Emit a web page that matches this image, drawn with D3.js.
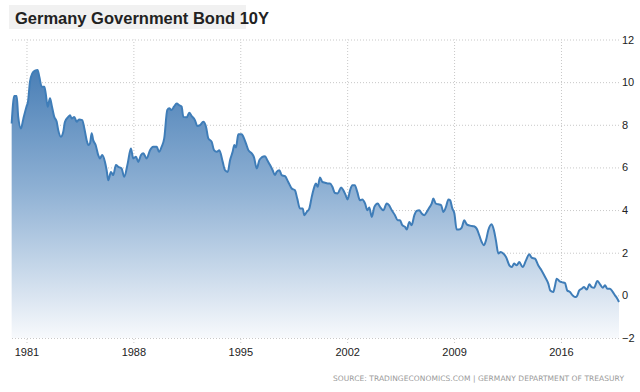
<!DOCTYPE html>
<html>
<head>
<meta charset="utf-8">
<script src="https://cdn.jsdelivr.net/npm/d3@7"></script>
<style>
  body { margin: 0; background: #fff; }
  svg { display: block; }
</style>
</head>
<body>
<script>

// data (decimal year, yield %)

const years = [1980.03, 1980.2, 1980.36, 1980.46, 1980.64, 1980.8, 1981.0, 1981.1, 1981.23, 1981.38,
  1981.56, 1981.73, 1981.84, 1982.0, 1982.17, 1982.26, 1982.39, 1982.54, 1982.65, 1982.82,
  1982.98, 1983.08, 1983.26, 1983.41, 1983.52, 1983.74, 1983.85, 1983.96, 1984.13, 1984.29,
  1984.44, 1984.65, 1984.79, 1984.94, 1985.05, 1985.16, 1985.27, 1985.37, 1985.53, 1985.7,
  1985.81, 1985.96, 1986.14, 1986.25, 1986.36, 1986.53, 1986.68, 1986.86, 1987.01, 1987.23,
  1987.4, 1987.63, 1987.84, 1987.99, 1988.17, 1988.32, 1988.5, 1988.65, 1988.87, 1989.09,
  1989.3, 1989.53, 1989.68, 1989.85, 1990.02, 1990.22, 1990.35, 1990.5, 1990.66, 1990.84,
  1991.0, 1991.16, 1991.27, 1991.49, 1991.66, 1991.82, 1992.03, 1992.19, 1992.36, 1992.58,
  1992.76, 1992.91, 1993.13, 1993.28, 1993.46, 1993.63, 1993.85, 1994.0, 1994.18, 1994.33,
  1994.5, 1994.61, 1994.72, 1994.87, 1995.09, 1995.2, 1995.37, 1995.53, 1995.75, 1995.9,
  1996.08, 1996.25, 1996.4, 1996.62, 1996.77, 1996.95, 1997.12, 1997.27, 1997.38, 1997.56,
  1997.71, 1997.93, 1998.14, 1998.37, 1998.58, 1998.73, 1998.91, 1999.09, 1999.19, 1999.35,
  1999.52, 1999.68, 1999.85, 1999.95, 2000.07, 2000.22, 2000.37, 2000.55, 2000.72, 2000.88,
  2001.03, 2001.2, 2001.38, 2001.6, 2001.75, 2001.9, 2002.03, 2002.19, 2002.34, 2002.5,
  2002.66, 2002.84, 2002.99, 2003.17, 2003.32, 2003.45, 2003.61, 2003.78, 2004.0, 2004.15,
  2004.37, 2004.59, 2004.74, 2004.92, 2005.13, 2005.31, 2005.46, 2005.61, 2005.79, 2005.9,
  2006.07, 2006.22, 2006.4, 2006.55, 2006.72, 2006.88, 2007.05, 2007.21, 2007.38, 2007.54,
  2007.64, 2007.8, 2007.97, 2008.15, 2008.3, 2008.47, 2008.63, 2008.74, 2008.89, 2009.02,
  2009.17, 2009.32, 2009.5, 2009.67, 2009.83, 2010.05, 2010.3, 2010.48, 2010.65, 2010.81,
  2010.96, 2011.09, 2011.24, 2011.46, 2011.61, 2011.74, 2011.9, 2012.05, 2012.22, 2012.4,
  2012.62, 2012.78, 2012.93, 2013.1, 2013.27, 2013.49, 2013.71, 2013.92, 2014.08, 2014.3,
  2014.51, 2014.73, 2014.96, 2015.17, 2015.3, 2015.5, 2015.6, 2015.72, 2015.89, 2016.05,
  2016.26, 2016.41, 2016.59, 2016.76, 2016.92, 2017.03, 2017.2, 2017.36, 2017.51, 2017.69,
  2017.86, 2018.01, 2018.17, 2018.38, 2018.56, 2018.74, 2018.88, 2019.04, 2019.21, 2019.39,
  2019.54, 2019.69, 2019.8];

const yields = [8.06, 9.35, 9.35, 8.37, 7.83, 8.3, 8.85, 9.08, 10.02, 10.41,
  10.54, 10.57, 10.25, 9.78, 9.78, 9.47, 8.85, 9.24, 8.92, 8.37,
  8.14, 7.75, 7.44, 7.67, 8.14, 8.37, 8.45, 8.3, 8.37, 8.14,
  8.25, 8.22, 7.83, 7.28, 7.05, 7.13, 7.6, 7.28, 7.05, 6.58,
  6.42, 6.58, 6.26, 5.87, 5.4, 5.79, 5.64, 6.11, 6.03, 5.95,
  5.56, 6.19, 6.89, 6.42, 6.5, 6.26, 6.58, 6.66, 6.42, 6.81,
  6.97, 6.97, 6.73, 6.97, 7.36, 8.69, 8.77, 8.69, 8.85, 9.0,
  8.92, 8.85, 8.37, 8.35, 8.56, 8.41, 8.22, 7.94, 7.98, 8.14,
  7.9, 7.36, 7.2, 6.81, 6.73, 6.81, 6.26, 5.87, 5.79, 6.34,
  6.73, 7.05, 6.94, 7.56, 7.56, 7.44, 7.13, 6.81, 6.66, 6.47,
  5.95, 6.34, 6.47, 6.53, 6.34, 6.11, 5.87, 5.64, 5.79, 5.87,
  5.64, 5.59, 5.32, 5.01, 4.93, 4.54, 4.07, 4.07, 3.76, 3.91,
  4.07, 4.62, 5.09, 5.25, 5.09, 5.53, 5.32, 5.28, 5.25, 5.25,
  5.09, 4.8, 4.78, 5.06, 4.93, 4.7, 4.5, 4.93, 5.17, 5.17,
  4.85, 4.46, 4.5, 4.31, 3.99, 4.12, 3.68, 4.15, 4.31, 4.15,
  3.99, 4.31, 4.23, 3.99, 3.76, 3.52, 3.52, 3.29, 3.21, 3.09,
  3.44, 3.29, 3.76, 3.96, 3.99, 3.84, 3.76, 3.91, 4.12, 4.31,
  4.54, 4.31, 4.27, 4.23, 3.91, 4.15, 4.5, 4.46, 4.07, 3.84,
  3.09, 3.09, 3.18, 3.52, 3.33, 3.27, 3.24, 3.13, 2.82, 2.5,
  2.35, 2.58, 3.05, 3.33, 3.05, 2.58, 1.96, 2.03, 1.96, 1.8,
  1.41, 1.33, 1.49, 1.41, 1.56, 1.33, 1.64, 1.93, 1.77, 1.72,
  1.41, 1.17, 0.86, 0.55, 0.23, 0.16, 0.42, 0.78, 0.67, 0.62,
  0.58, 0.23, 0.16, 0.0, -0.08, -0.05, 0.23, 0.31, 0.39, 0.27,
  0.52, 0.39, 0.36, 0.67, 0.52, 0.36, 0.47, 0.31, 0.31, 0.16,
  0.0, -0.16, -0.31];

const xTicks = [1981, 1988, 1995, 2002, 2009, 2016];
const yTicks = [-2, 0, 2, 4, 6, 8, 10, 12];

const title = "Germany Government Bond 10Y";
const source = "SOURCE: TRADINGECONOMICS.COM | GERMANY DEPARTMENT OF TREASURY";

const data = years.map((y, i) => ({year: y, value: yields[i]}));

// layout

const w = 640;
const h = 392;
const plot = {left: 11.2, right: 619, top: 39.5, bottom: 338};

const xScale = d3.scaleLinear()
    .domain([1980, 2019.8])
    .range([plot.left, plot.right]);

const yScale = d3.scaleLinear()
    .domain([-2, 12])
    .range([plot.bottom, plot.top]);

const svg = d3.select("body")
  .append("svg")
    .attr("width", w)
    .attr("height", h)
    .style("font-family", "'Liberation Sans', Arial, sans-serif");

svg.append("rect")
    .attr("width", w)
    .attr("height", h)
    .attr("fill", "#fff");

// gradient for the area

const grad = svg.append("defs")
  .append("linearGradient")
    .attr("id", "fade")
    .attr("gradientUnits", "userSpaceOnUse")
    .attr("x1", 0).attr("x2", 0)
    .attr("y1", yScale(10.6))
    .attr("y2", yScale(-2));

grad.append("stop").attr("offset", "0%").attr("stop-color", "#4a7fb6");
grad.append("stop").attr("offset", "45%").attr("stop-color", "#8fb1d4");
grad.append("stop").attr("offset", "100%").attr("stop-color", "#f7f9fc");

// grid via axes

const yAxis = d3.axisRight(yScale)
    .tickValues(yTicks)
    .tickSize(-(plot.right - 12))
    .tickPadding(3)
    .tickFormat(d3.format("d"));

const gy = svg.append("g")
    .attr("class", "yAxis")
    .attr("transform", `translate(${plot.right}, 0)`)
    .call(yAxis);

const xAxis = d3.axisBottom(xScale)
    .tickValues(xTicks)
    .tickSize(-(343 - plot.top))
    .tickPadding(5)
    .tickFormat(d3.format("d"));

const gx = svg.append("g")
    .attr("class", "xAxis")
    .attr("transform", `translate(0, 343)`)
    .call(xAxis);

[gx, gy].forEach(g => {
  g.select(".domain").remove();
  g.selectAll(".tick line")
      .attr("stroke", "#c8c8c8")
      .attr("stroke-dasharray", "1,2");
  g.selectAll(".tick text")
      .attr("fill", "#222")
      .style("font-size", "11px")
      .style("font-family", "'Liberation Sans', Arial, sans-serif");
});

// area + line

const area = d3.area()
    .x(d => xScale(d.year))
    .y0(yScale(-2))
    .y1(d => yScale(d.value))
    .curve(d3.curveMonotoneX);

const line = d3.line()
    .x(d => xScale(d.year))
    .y(d => yScale(d.value))
    .curve(d3.curveMonotoneX);

svg.append("path")
    .datum(data)
    .attr("d", area)
    .attr("fill", "url(#fade)");

svg.append("path")
    .datum(data)
    .attr("d", line)
    .attr("fill", "none")
    .attr("stroke", "#3f7db8")
    .attr("stroke-width", 2)
    .attr("stroke-linejoin", "round");

// title

svg.append("rect")
    .attr("x", 9)
    .attr("y", 5)
    .attr("width", 237)
    .attr("height", 24)
    .attr("fill", "#f1f1f1");

svg.append("text")
    .attr("x", 15)
    .attr("y", 24)
    .attr("fill", "#222")
    .style("font-size", "16.5px")
    .style("font-weight", "bold")
    .text(title);

// source, spread out with letter-spacing to span the same width

const src = svg.append("text")
    .attr("x", 333)
    .attr("y", 381)
    .attr("fill", "#9a9a9a")
    .style("font-size", "7.5px")
    .style("font-family", "'DejaVu Sans', sans-serif")
    .text(source);

const natural = src.node().getComputedTextLength();
const spacing = Math.max(0, (291 - natural) / (source.length - 1));
src.style("letter-spacing", spacing + "px");

</script>
</body>
</html>
